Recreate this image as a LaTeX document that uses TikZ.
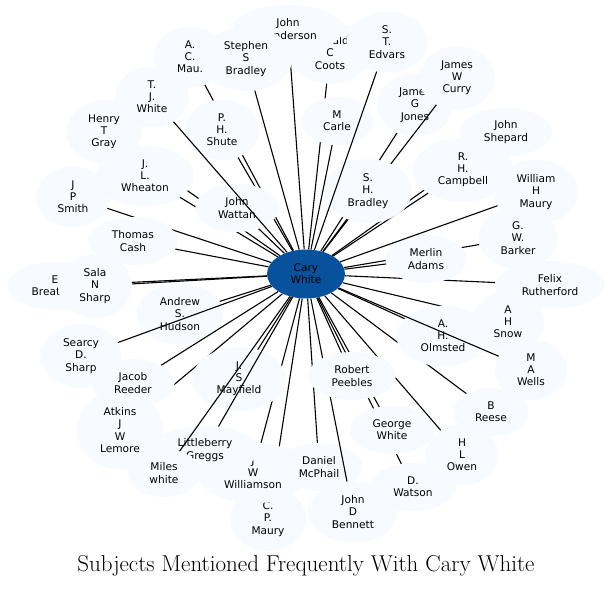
\documentclass[tikz,border=0pt]{standalone}
\usepackage{fontspec}
\usetikzlibrary{shapes.geometric}
\newfontfamily\labelfont{DejaVu Sans}
\definecolor{leaffill}{HTML}{F7FBFF}
\definecolor{hubfill}{HTML}{08519C}
\pgfdeclarelayer{front}
\pgfsetlayers{main,front}

\begin{document}
\begin{tikzpicture}[
    x=1pt, y=-1pt,
    person/.style={ellipse, fill=leaffill, align=center, inner xsep=10.6pt, inner ysep=5.3pt, minimum width=72pt, minimum height=48pt, font=\labelfont\fontsize{10.6}{12.2}\selectfont},
    hub/.style={person, fill=hubfill, minimum width=78pt, minimum height=49pt},
    link/.style={draw=black, line width=1.1pt},
    title/.style={font=\fontsize{23}{26}\selectfont}
]
    \useasboundingbox[fill=white] (0,0) rectangle (613,590);

    % Centre
    \begin{pgfonlayer}{front}
    \node[hub] (cary) at (306,274) {Cary\\White};
    \end{pgfonlayer}

    % Top
    \node[person] (coots) at (330,53) {Donald\\C\\Coots};
    \draw[link] (cary) -- (coots);
    \node[person] (henderson) at (288,29) {John\\Henderson};
    \draw[link] (cary) -- (henderson);
    \node[person] (stephen_bradley) at (246,59) {Stephen\\S\\Bradley};
    \draw[link] (cary) -- (stephen_bradley);
    \node[person] (ac_mau) at (190,57) {A.\\C.\\Mau.};
    \draw[link] (cary) -- (ac_mau);
    \node[person] (ph_shute) at (222,130) {P.\\H.\\Shute};
    \draw[link] (cary) -- (ph_shute);

    % Upper left
    \node[person] (henry_gray) at (104,132) {Henry\\T\\Gray};
    \draw[link] (cary) -- (henry_gray);
    \node[person] (jl_wheaton) at (145,176) {J.\\L.\\Wheaton};
    \draw[link] (cary) -- (jl_wheaton);
    \node[person] (john_wattan) at (237,208) {John\\Wattan};
    \draw[link] (cary) -- (john_wattan);
    \node[person] (tj_white) at (152,97) {T.\\J.\\White};
    \draw[link] (cary) -- (tj_white);
    \node[person] (jp_smith) at (73,197) {J\\P\\Smith};
    \draw[link] (cary) -- (jp_smith);
    \node[person] (thomas_cash) at (133,241) {Thomas\\Cash};
    \draw[link] (cary) -- (thomas_cash);

    % Left
    \node[person] (e_breathitt) at (55,286) {E\\Breathitt};
    \draw[link] (cary) -- (e_breathitt);
    \node[person] (sala_sharp) at (95,286) {Sala\\N\\Sharp};
    \draw[link] (cary) -- (sala_sharp);
    \node[person] (andrew_hudson) at (180,314) {Andrew\\S.\\Hudson};
    \draw[link] (cary) -- (andrew_hudson);
    \node[person] (searcy_sharp) at (81,356) {Searcy\\D.\\Sharp};
    \draw[link] (cary) -- (searcy_sharp);
    \node[person] (atkins_lemore) at (120,430) {Atkins\\J\\W\\Lemore};
    \draw[link] (cary) -- (atkins_lemore);
    \node[person] (jacob_reeder) at (133,383) {Jacob\\Reeder};
    \draw[link] (cary) -- (jacob_reeder);

    % Lower left
    \node[person] (cp_maury) at (268,519) {C.\\P.\\Maury};
    \draw[link] (cary) -- (cp_maury);
    \node[person] (jw_williamson) at (253,473) {J\\W\\Williamson};
    \draw[link] (cary) -- (jw_williamson);
    \node[person] (js_mayfield) at (239,379) {J.\\S\\Mayfield};
    \draw[link] (cary) -- (js_mayfield);
    \node[person] (littleberry_greggs) at (205,450) {Littleberry\\Greggs};
    \draw[link] (cary) -- (littleberry_greggs);
    \node[person] (miles_white) at (164,473) {Miles\\white};
    \draw[link] (cary) -- (miles_white);

    % Bottom
    \node[person] (daniel_mcphail) at (319,467) {Daniel\\McPhail};
    \draw[link] (cary) -- (daniel_mcphail);
    \node[person] (john_bennett) at (353,512) {John\\D\\Bennett};
    \draw[link] (cary) -- (john_bennett);
    \node[person] (d_watson) at (413,487) {D.\\Watson};
    \draw[link] (cary) -- (d_watson);
    \node[person] (george_white) at (392,430) {George\\White};
    \draw[link] (cary) -- (george_white);
    \node[person] (hl_owen) at (462,455) {H\\L\\Owen};
    \draw[link] (cary) -- (hl_owen);
    \node[person] (robert_peebles) at (352,376) {Robert\\Peebles};
    \draw[link] (cary) -- (robert_peebles);

    % Lower right
    \node[person] (b_reese) at (491,412) {B\\Reese};
    \draw[link] (cary) -- (b_reese);
    \node[person] (ah_snow) at (508,322) {A\\H\\Snow};
    \draw[link] (cary) -- (ah_snow);
    \node[person] (ah_olmsted) at (443,336) {A.\\H.\\Olmsted};
    \draw[link] (cary) -- (ah_olmsted);
    \node[person] (ma_wells) at (531,370) {M\\A\\Wells};
    \draw[link] (cary) -- (ma_wells);

    % Right
    \node[person] (felix_rutherford) at (550,285) {Felix\\Rutherford};
    \draw[link] (cary) -- (felix_rutherford);
    \node[person] (gw_barker) at (518,238) {G.\\W.\\Barker};
    \draw[link] (cary) -- (gw_barker);
    \node[person] (merlin_adams) at (426,259) {Merlin\\Adams};
    \draw[link] (cary) -- (merlin_adams);
    \node[person] (wh_maury) at (536,192) {William\\H\\Maury};
    \draw[link] (cary) -- (wh_maury);

    % Upper right
    \node[person] (john_shepard) at (506,132) {John\\Shepard};
    \draw[link] (cary) -- (john_shepard);
    \node[person] (rh_campbell) at (463,170) {R.\\H.\\Campbell};
    \draw[link] (cary) -- (rh_campbell);
    \node[person] (jg_jones) at (415,105) {James\\G\\Jones};
    \draw[link] (cary) -- (jg_jones);
    \node[person] (jw_curry) at (457,78) {James\\W\\Curry};
    \draw[link] (cary) -- (jw_curry);
    \node[person] (sh_bradley) at (368,191) {S.\\H.\\Bradley};
    \draw[link] (cary) -- (sh_bradley);
    \node[person] (m_carle) at (337,121) {M\\Carle};
    \draw[link] (cary) -- (m_carle);
    \node[person] (st_edvars) at (387,42) {S.\\T.\\Edvars};
    \draw[link] (cary) -- (st_edvars);

    % Title
    \node[title] (caption) at (306,566) {Subjects Mentioned Frequently With Cary White};

\end{tikzpicture}
\end{document}
